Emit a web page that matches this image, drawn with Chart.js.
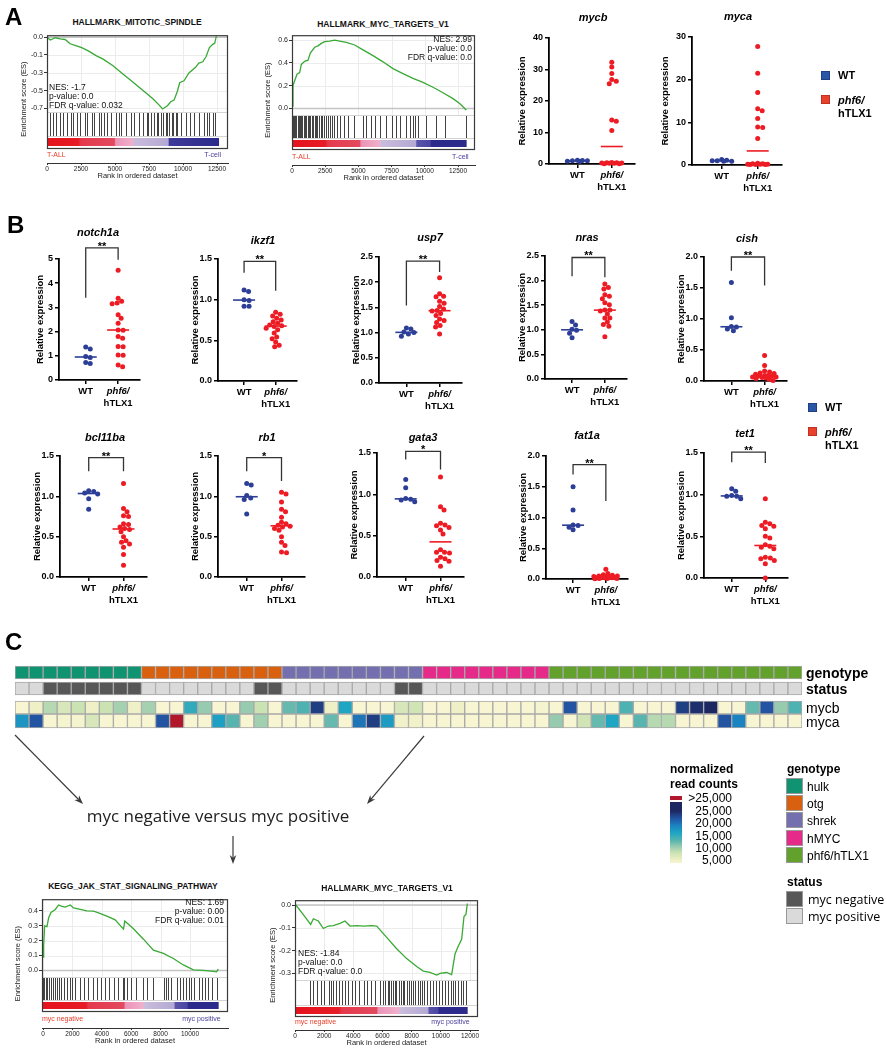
<!DOCTYPE html>
<html lang="en">
<head>
<meta charset="UTF-8">
<title>myc / phf6-hTLX1 figure</title>
<script src="https://cdn.jsdelivr.net/npm/chart.js"></script>
<style>
  body { margin: 0; background: #fff; }
  #fig { position: relative; width: 887px; height: 1050px; overflow: hidden; font-family: Arial, "Liberation Sans", sans-serif; }
  #fig canvas { position: absolute; }
  .t { position: absolute; white-space: nowrap; line-height: 1; }
  .sw { position: absolute; box-sizing: border-box; }
</style>
</head>
<body>
<div id="fig"></div>
<script>
// ---------- data: GSEA curves (rank, enrichment score) and hit ranks ----------
const spindleRank = [0, 243, 607, 971, 1335, 1699, 2063, 2548, 3034, 3641, 4126, 4854, 5582, 6310, 7038, 7766, 8252, 8495, 8859, 9101, 9344, 9587, 9757, 10072, 10436, 10922, 11165, 11456, 11699, 11941, 12184, 12330, 12451];
const spindleES = [0, -0.029, -0.006, -0.016, -0.023, -0.065, -0.081, -0.103, -0.135, -0.184, -0.216, -0.281, -0.361, -0.442, -0.523, -0.603, -0.668, -0.706, -0.674, -0.635, -0.619, -0.532, -0.448, -0.429, -0.352, -0.297, -0.255, -0.242, -0.19, -0.103, -0.071, -0.061, 0.01];
const spindleHits = [240, 440, 680, 970, 1170, 1460, 1770, 1890, 2180, 2430, 2820, 2960, 3280, 3470, 3810, 4000, 4180, 4440, 4680, 5100, 5290, 5460, 5780, 6190, 6430, 6800, 7040, 7330, 7450, 7650, 7890, 8060, 8180, 8370, 8500, 8740, 8860, 8980, 9170, 9270, 9470, 9590, 9830, 10190, 10490, 10800, 11170, 11530, 11770, 11940, 12180, 12380];

const mycTallRank = [0, 75, 200, 377, 577, 703, 954, 1205, 1380, 1707, 1958, 2209, 2460, 2836, 3213, 3589, 4091, 4719, 5346, 6099, 6852, 7605, 8358, 9111, 9864, 10617, 11370, 12123, 12625, 13127];
const mycTallES = [0.02, 0.2, 0.243, 0.3, 0.314, 0.386, 0.414, 0.423, 0.486, 0.537, 0.549, 0.571, 0.586, 0.591, 0.6, 0.591, 0.58, 0.557, 0.514, 0.463, 0.409, 0.349, 0.306, 0.263, 0.229, 0.186, 0.137, 0.086, 0.043, -0.014];
const mycTallHits = [40, 120, 220, 330, 420, 520, 600, 700, 780, 880, 980, 1080, 1180, 1280, 1380, 1480, 1580, 1700, 1800, 1900, 2020, 2150, 2280, 2400, 2550, 2700, 2850, 3000, 3200, 3400, 3650, 3900, 4250, 4700, 5350, 5600, 5950, 6250, 6600, 7100, 7500, 7850, 8100, 8600, 8850, 9100, 9250, 9500, 10100, 10850, 11500, 13100];

const jakRank = [0, 45, 113, 271, 385, 543, 837, 1063, 1290, 1516, 1855, 2081, 2534, 2986, 3439, 3778, 4344, 4910, 5475, 5566, 6154, 6833, 7511, 8190, 8869, 9548, 10226, 10905, 11584, 11810, 11923];
const jakES = [0.09, 0.17, 0.3, 0.295, 0.354, 0.39, 0.41, 0.44, 0.43, 0.426, 0.44, 0.42, 0.41, 0.4, 0.398, 0.387, 0.365, 0.34, 0.278, 0.332, 0.28, 0.21, 0.136, 0.114, 0.08, 0.037, 0.004, 0.0, -0.007, -0.01, 0.01];
const jakHits = [30, 90, 200, 300, 420, 560, 700, 800, 930, 1100, 1250, 1400, 1600, 1850, 2000, 2200, 2500, 2800, 3050, 3400, 3700, 3950, 4250, 4500, 4800, 5100, 5450, 5520, 5700, 6000, 6350, 6800, 7100, 7500, 8200, 8350, 8500, 8700, 9100, 9300, 9500, 9700, 9900, 10100, 10300, 10600, 10800, 11000, 11200, 11500, 11850];

const mycNegRank = [0, 571, 1075, 1258, 1601, 1943, 2286, 2629, 3086, 3429, 3772, 4229, 4686, 5257, 5600, 6286, 6972, 7657, 8343, 8800, 9257, 9714, 9943, 10400, 10743, 10972, 11200, 11429, 11589, 11726, 11818];
const mycNegES = [0.005, -0.042, -0.085, -0.06, -0.07, -0.103, -0.092, -0.09, -0.08, -0.07, -0.092, -0.09, -0.092, -0.09, -0.092, -0.142, -0.192, -0.235, -0.27, -0.29, -0.296, -0.307, -0.3, -0.296, -0.305, -0.215, -0.18, -0.15, -0.05, -0.04, 0.007];
const mycNegHits = [1030, 1250, 1500, 1750, 2000, 2300, 2450, 2600, 2800, 3000, 3200, 3450, 3650, 3900, 4100, 4400, 4700, 4950, 5200, 5500, 5800, 6050, 6200, 6350, 6450, 6550, 6700, 6850, 6950, 7100, 7250, 7400, 7500, 7650, 7800, 7950, 8100, 8250, 8400, 8550, 8700, 8850, 9050, 9250, 9450, 9650, 9900, 10100, 10300, 10500, 10700, 10850, 11000, 11200, 11400, 11550, 11750];

// ranked-list colour bars: [rank, colour]
const spindleBar = [[0, '#e5131d'], [2300, '#e61c26'], [2500, '#e5394c'], [4950, '#e24a5e'], [5050, '#eb93b6'], [6300, '#f0b0cc'], [6400, '#c9bcdc'], [8900, '#b4a9d3'], [9000, '#3e3a9a'], [12650, '#2c2a8a']];
const mycTallBar = [[0, '#e5131d'], [2500, '#e61c26'], [2700, '#e5394c'], [5100, '#e24a5e'], [5200, '#eb93b6'], [6600, '#f0b0cc'], [6700, '#c9bcdc'], [9300, '#b4a9d3'], [9400, '#5a55aa'], [10400, '#4a46a2'], [10500, '#2c2a8a'], [13150, '#2c2a8a']];
const jakBar = [[0, '#e5131d'], [2900, '#e61c26'], [3100, '#e5394c'], [5500, '#e24a5e'], [5600, '#eb93b6'], [6800, '#f0b0cc'], [6900, '#c9bcdc'], [8900, '#b4a9d3'], [9000, '#5a55aa'], [9800, '#4a46a2'], [9900, '#2c2a8a'], [11950, '#2c2a8a']];
const mycNegBar = [[0, '#e5131d'], [3000, '#e61c26'], [3200, '#e5394c'], [5600, '#e24a5e'], [5700, '#eb93b6'], [7100, '#f0b0cc'], [7200, '#c9bcdc'], [9100, '#b4a9d3'], [9200, '#5a55aa'], [9800, '#4a46a2'], [9900, '#2c2a8a'], [11840, '#2c2a8a']];

// ---------- data: relative expression (WT n=6, phf6/hTLX1 n=18) ----------
const mycbWT = [1.2, 1.1, 1.0, 1.0, 0.9, 0.8];
const mycbKO = [32.3, 30.8, 28.7, 26.8, 26.3, 25.5, 14.0, 13.6, 10.6, 0.5, 0.4, 0.4, 0.3, 0.3, 0.2, 0.2, 0.1, 0.1];
const mycaWT = [1.3, 1.1, 1.0, 1.0, 0.9, 0.9];
const mycaKO = [27.8, 21.5, 17.0, 13.2, 12.7, 10.9, 8.9, 8.8, 6.2, 0.4, 0.3, 0.3, 0.2, 0.2, 0.2, 0.1, 0.1, 0.1];
const notch1aWT = [1.36, 1.28, 0.97, 0.93, 0.72, 0.68];
const notch1aKO = [4.53, 3.38, 3.25, 3.18, 3.15, 2.7, 2.55, 2.35, 2.07, 2.06, 1.8, 1.73, 1.38, 1.37, 1.03, 1.02, 0.62, 0.55];
const ikzf1WT = [1.12, 1.1, 1.0, 0.99, 0.92, 0.92];
const ikzf1KO = [0.845, 0.82, 0.8, 0.77, 0.75, 0.73, 0.71, 0.69, 0.68, 0.67, 0.65, 0.63, 0.59, 0.54, 0.52, 0.48, 0.44, 0.42];
const usp7WT = [1.09, 1.07, 1.01, 1.0, 0.97, 0.93];
const usp7KO = [2.09, 1.77, 1.72, 1.71, 1.62, 1.58, 1.52, 1.47, 1.44, 1.43, 1.38, 1.34, 1.27, 1.24, 1.2, 1.14, 1.11, 0.97];
const nrasWT = [1.17, 1.1, 1.01, 0.99, 0.93, 0.84];
const nrasKO = [1.93, 1.86, 1.83, 1.71, 1.68, 1.63, 1.55, 1.51, 1.4, 1.4, 1.38, 1.32, 1.24, 1.24, 1.11, 1.07, 1.16, 0.86];
const cishWT = [1.59, 1.02, 0.88, 0.87, 0.84, 0.81];
const cishKO = [0.41, 0.25, 0.16, 0.145, 0.13, 0.12, 0.11, 0.09, 0.09, 0.08, 0.075, 0.065, 0.065, 0.055, 0.05, 0.04, 0.03, 0.01];
const bcl11baWT = [1.07, 1.06, 1.04, 1.03, 0.97, 0.84];
const bcl11baKO = [1.16, 0.85, 0.81, 0.76, 0.75, 0.66, 0.65, 0.62, 0.6, 0.59, 0.56, 0.5, 0.45, 0.43, 0.41, 0.37, 0.28, 0.145];
const rb1WT = [1.16, 1.14, 1.01, 0.98, 0.96, 0.78];
const rb1KO = [1.05, 1.03, 0.93, 0.84, 0.81, 0.74, 0.68, 0.66, 0.64, 0.63, 0.62, 0.6, 0.58, 0.5, 0.43, 0.39, 0.31, 0.3];
const gata3WT = [1.18, 1.08, 0.95, 0.94, 0.93, 0.91];
const gata3KO = [1.21, 0.85, 0.81, 0.65, 0.63, 0.62, 0.6, 0.57, 0.52, 0.33, 0.3, 0.3, 0.29, 0.24, 0.22, 0.2, 0.19, 0.13];
const fat1aWT = [1.5, 1.12, 0.88, 0.87, 0.84, 0.8];
const fat1aKO = [0.16, 0.09, 0.07, 0.06, 0.05, 0.05, 0.04, 0.04, 0.03, 0.03, 0.03, 0.02, 0.02, 0.02, 0.01, 0.01, 0.01, 0.005];
const tet1WT = [1.07, 1.04, 0.99, 0.98, 0.98, 0.95];
const tet1KO = [0.95, 0.67, 0.65, 0.63, 0.62, 0.59, 0.5, 0.48, 0.4, 0.38, 0.37, 0.35, 0.25, 0.24, 0.23, 0.21, 0.17, 0.0];

// ---------- data: heatmap (56 samples) ----------
const genotypeNames = ['hulk', 'otg', 'shrek', 'hMYC', 'phf6/hTLX1'];
const genotypeSizes = [9, 10, 10, 9, 18];
const statusCodes = 'PPNNNNNNN' + 'PPPPPPPPNN' + 'PPPPPPPPNN' + 'PPPPPPPPP' + 'PPPPPPPPPPPPPPPPPP';
const mycbCounts = [3500, 5000, 9000, 7000, 8000, 5000, 8000, 9800, 5000,
  9800, 3500, 3500, 15000, 10500, 3500, 3500, 10500, 8000, 3500,
  12500, 13500, 23500, 5000, 16000, 3500, 3500, 3500, 7000, 7500,
  3500, 3500, 5000, 3500, 3500, 3500, 3500, 3500, 4000,
  3500, 22000, 3500, 3500, 3500, 13500, 3500, 3500, 3500, 23500, 24500, 25000, 3500, 3500, 12500, 22000, 10500, 13500];
const mycaCounts = [17500, 22000, 3500, 4000, 4000, 7000, 3500, 3500, 3500,
  3500, 22000, 30000, 3500, 3500, 16500, 13000, 3500, 10000, 3500,
  3500, 3500, 3500, 12500, 3500, 20000, 23500, 17000, 4500, 4500,
  3500, 3500, 3500, 3500, 3500, 3500, 3500, 3500, 3500,
  10500, 3500, 7500, 12500, 16000, 3500, 13000, 9000, 9000, 3500, 3500, 3500, 22000, 19000, 3500, 3500, 3500, 3500];
const countTicks = [25000, 20000, 15000, 10000, 5000];

// ---------- styles ----------
const FONT = 'Arial, "Liberation Sans", sans-serif';
const DOT_BLUE = '#2c3e96', DOT_RED = '#ed1c24';
const genotypeColors = {'hulk': '#109370', 'otg': '#d9600f', 'shrek': '#7470b0', 'hMYC': '#e52a89', 'phf6/hTLX1': '#62a22c'};
const statusColors = {N: '#575757', P: '#dadada'};
const countStops = [[3000, '#f9f7d6'], [5000, '#eff0c6'], [8000, '#cbe2b3'], [10500, '#97cbb0'], [13000, '#58b4ae'], [16000, '#1ea6c3'], [19000, '#1a84c2'], [22000, '#2254a2'], [25000, '#1d2862']];

Chart.defaults.font.family = FONT;
Chart.defaults.animation = false;
Chart.defaults.events = [];
Chart.defaults.plugins.legend.display = false;
Chart.defaults.plugins.tooltip.enabled = false;

const fig = document.getElementById('fig');

function addCanvas(x, y, w, h) {
  const c = document.createElement('canvas');
  c.width = w; c.height = h;
  c.style.cssText = `left:${x}px;top:${y}px;width:${w}px;height:${h}px`;
  fig.appendChild(c);
  return c;
}

function label(text, x, y, font, color = '#000', align = 'center') {
  const d = document.createElement('div');
  d.className = 't';
  d.textContent = text;
  const tx = align === 'center' ? '-50%' : align === 'right' ? '-100%' : '0';
  d.style.cssText = `left:${x}px;top:${y}px;font:${font};color:${color};transform:translate(${tx},-50%)`;
  fig.appendChild(d);
}

function swatch(x, y, w, h, bg, border = '#999') {
  const d = document.createElement('div');
  d.className = 'sw';
  d.style.cssText = `left:${x}px;top:${y}px;width:${w}px;height:${h}px;background:${bg};border:1px solid ${border}`;
  fig.appendChild(d);
}

function seg(ctx, x1, y1, x2, y2) {
  ctx.beginPath(); ctx.moveTo(x1, y1); ctx.lineTo(x2, y2); ctx.stroke();
}

function median(vals) {
  const s = [...vals].sort((a, b) => a - b), m = s.length >> 1;
  return s.length % 2 ? s[m] : (s[m - 1] + s[m]) / 2;
}

// scatter-dot layout: nearest free horizontal slot within +/-12px, overlap allowed when full
function swarm(vals, yPerPx, xPerPx) {
  const d = 4.6, maxOff = 12, placed = [], out = [];
  const order = vals.map((v, i) => i).sort((a, b) => vals[b] - vals[a]);
  for (const i of order) {
    const py = vals[i] / yPerPx;
    let best = 0, bestGap = -1;
    for (let k = 0; k <= maxOff * 4; k++) {
      const off = (k % 2 ? 1 : -1) * Math.ceil(k / 2) * 0.5;
      const gap = placed.reduce((m, p) => Math.min(m, Math.hypot(p.x - off, p.y - py)), Infinity);
      if (gap >= d) { best = off; break; }
      if (gap > bestGap + 0.3) { best = off; bestGap = gap; }
    }
    placed.push({x: best, y: py});
    out[i] = best * xPerPx;
  }
  return out;
}

function countColor(v) {
  if (v > 25000) return '#b2182b';
  if (v <= countStops[0][0]) return countStops[0][1];
  for (let i = 1; i < countStops.length; i++) {
    const [v1, c1] = countStops[i];
    if (v <= v1) {
      const [v0, c0] = countStops[i - 1];
      const f = (v - v0) / (v1 - v0);
      const a = parseInt(c0.slice(1), 16), b = parseInt(c1.slice(1), 16);
      const ch = s => Math.round(((a >> s) & 255) * (1 - f) + ((b >> s) & 255) * f);
      return `rgb(${ch(16)},${ch(8)},${ch(0)})`;
    }
  }
  return countStops[countStops.length - 1][1];
}

// ---------- GSEA enrichment plot ----------
function gseaPlot(g) {
  const axW = 46, axH = 18, padT = 2, padR = 4;
  const cx = g.l - axW, cy = g.t - padT;
  const cv = addCanvas(cx, cy, g.r - g.l + axW + padR, g.axisY - g.t + padT + axH);
  const [[v0, p0], [v1, p1]] = g.yCal;
  const k = (v0 - v1) / (p1 - p0);
  const yMax = v0 + (p0 - g.t) * k, yMin = v0 - (g.axisY - p0) * k;
  const [x0, x1, r1] = g.xCal;
  const kx = r1 / (x1 - x0);
  const Y = py => py - cy;

  const deco = {
    id: 'gseaDeco',
    beforeDatasetsDraw(chart) {
      const {ctx, chartArea: a, scales: {x, y}} = chart;
      ctx.save();
      ctx.strokeStyle = '#ececec'; ctx.lineWidth = 1;
      g.yTicks.forEach(v => { const py = Math.round(y.getPixelForValue(v)) + 0.5; seg(ctx, a.left, py, a.right, py); });
      g.xTicks.forEach(v => { const px = Math.round(x.getPixelForValue(v)) + 0.5; seg(ctx, px, a.top, px, Y(g.esBottom)); });
      ctx.strokeStyle = '#c4c4c4'; ctx.lineWidth = 1.5;
      const z = y.getPixelForValue(0);
      seg(ctx, a.left, z, a.right, z);
      ctx.restore();
    },
    afterDatasetsDraw(chart) {
      const {ctx, chartArea: a, scales: {x}} = chart;
      ctx.save();
      ctx.strokeStyle = '#d4d4d4'; ctx.lineWidth = 1;
      seg(ctx, a.left, Y(g.esBottom) + 0.5, a.right, Y(g.esBottom) + 0.5);
      seg(ctx, a.left, Y(g.barTop) - 1.5, a.right, Y(g.barTop) - 1.5);
      ctx.strokeStyle = 'rgba(20,20,20,0.8)';
      g.hits.forEach(r => {
        const px = Math.round(x.getPixelForValue(r)) + 0.5;
        seg(ctx, px, Y(g.esBottom) + 1, px, Y(g.barTop) - 2);
      });
      const xs = x.getPixelForValue(0), xe = x.getPixelForValue(g.n);
      const grad = ctx.createLinearGradient(xs, 0, xe, 0);
      g.bar.forEach(([r, c]) => grad.addColorStop(Math.min(1, r / g.n), c));
      ctx.fillStyle = grad;
      ctx.fillRect(xs, Y(g.barTop), xe - xs, g.barBottom - g.barTop);
      ctx.strokeStyle = '#3a3a3a'; ctx.lineWidth = 1.2;
      ctx.strokeRect(a.left + 0.5, a.top + 0.5, a.right - a.left - 1, Y(g.barBottom) + 2 - a.top);
      ctx.font = `7px ${FONT}`; ctx.textBaseline = 'middle';
      ctx.fillStyle = '#e8402a'; ctx.textAlign = 'left';
      ctx.fillText(g.labL, a.left, Y(g.labY));
      ctx.fillStyle = '#4a3f9a'; ctx.textAlign = 'right';
      ctx.fillText(g.labR, xe + 2, Y(g.labY));
      ctx.restore();
    }
  };

  new Chart(cv, {
    type: 'line',
    data: {datasets: [{
      data: g.rank.map((r, i) => ({x: r, y: g.es[i]})),
      borderColor: '#39a935', borderWidth: 1.3, pointRadius: 0, tension: 0
    }]},
    options: {
      responsive: false,
      layout: {padding: {top: padT, right: padR, left: 0, bottom: 0}},
      scales: {
        x: {
          type: 'linear', min: (g.l - x0) * kx, max: (g.r - x0) * kx,
          afterFit: s => { s.height = axH; },
          afterBuildTicks: s => { s.ticks = g.xTicks.map(v => ({value: v})); },
          ticks: {autoSkip: false, maxRotation: 0, font: {size: 6.5}, color: '#222', padding: 0, callback: v => String(v)},
          grid: {drawOnChartArea: false, tickLength: 2, color: '#333'},
          border: {color: '#333', width: 1},
          title: {display: true, text: 'Rank in ordered dataset', font: {size: 7.5}, color: '#222', padding: {top: 0, bottom: 1}}
        },
        y: {
          min: yMin, max: yMax,
          afterFit: s => { s.width = axW; },
          afterBuildTicks: s => { s.ticks = g.yTicks.map(v => ({value: v})); },
          ticks: {autoSkip: false, font: {size: 7}, color: '#222', padding: 1, callback: (v, i) => g.yLabels[i]},
          grid: {drawOnChartArea: false, tickLength: 3, color: '#333'},
          border: {display: false},
          title: {display: true, text: 'Enrichment score (ES)', font: {size: 7.5}, color: '#222', padding: {top: g.yTitleX - cx - 4.5, bottom: 0}}
        }
      }
    },
    plugins: [deco]
  });

  label(g.title, g.titleX, g.titleY, `bold 8.5px ${FONT}`, '#111');
  g.notes.forEach((s, i) => label(s, g.noteX, g.noteY + i * 9, `8.5px ${FONT}`, '#111', g.noteAlign));
}

// ---------- scatter dot plot ----------
function dotPlot(p) {
  const padT = 34, axW = 54, axH = 30, padR = 4;
  const xMin = 0.175, xMax = 2.675;
  const plotW = p.right - p.ax, plotH = p.bottom - p.top;
  const xPerPx = (xMax - xMin) / plotW, yPerPx = p.yMax / plotH;
  const cx = p.ax - axW, cy = p.top - padT;
  const cv = addCanvas(cx, cy, plotW + axW + padR, plotH + padT + axH);
  const wtOff = swarm(p.wt, yPerPx, xPerPx), koOff = swarm(p.ko, yPerPx, xPerPx);
  const half = 11 * xPerPx;
  const pts = (vals, off, c) => vals.map((v, i) => ({x: c + off[i], y: v}));
  const mline = (vals, c) => [{x: c - half, y: median(vals)}, {x: c + half, y: median(vals)}];
  const gap = p.gap || 23;

  const deco = {
    id: 'dotDeco',
    afterDraw(chart) {
      const {ctx, chartArea: a, scales: {x, y}} = chart;
      const x1 = x.getPixelForValue(1), x2 = x.getPixelForValue(2);
      ctx.save();
      ctx.fillStyle = '#000'; ctx.textAlign = 'center'; ctx.textBaseline = 'middle';
      ctx.font = `bold 9.5px ${FONT}`;
      ctx.fillText('WT', x1, a.bottom + 11);
      ctx.fillText('hTLX1', x2, a.bottom + 23);
      ctx.font = `italic bold 9.5px ${FONT}`;
      ctx.fillText('phf6/', x2, a.bottom + 11);
      if (p.sig) {
        const [wb, kb, tp, lab] = p.sig;
        const yt = y.getPixelForValue(tp);
        ctx.strokeStyle = '#333'; ctx.lineWidth = 1.3;
        ctx.beginPath();
        ctx.moveTo(x1, y.getPixelForValue(wb)); ctx.lineTo(x1, yt);
        ctx.lineTo(x2, yt); ctx.lineTo(x2, y.getPixelForValue(kb));
        ctx.stroke();
        ctx.font = `bold 11px ${FONT}`; ctx.textBaseline = 'alphabetic';
        ctx.fillText(lab, (x1 + x2) / 2, yt + 2);
      }
      ctx.restore();
    }
  };

  new Chart(cv, {
    type: 'scatter',
    data: {datasets: [
      {data: pts(p.wt, wtOff, 1), backgroundColor: DOT_BLUE, pointRadius: 2.5, borderWidth: 0, clip: false},
      {data: pts(p.ko, koOff, 2), backgroundColor: DOT_RED, pointRadius: 2.5, borderWidth: 0, clip: false},
      {data: mline(p.wt, 1), showLine: true, borderColor: DOT_BLUE, borderWidth: 1.6, pointRadius: 0},
      {data: mline(p.ko, 2), showLine: true, borderColor: DOT_RED, borderWidth: 1.6, pointRadius: 0}
    ]},
    options: {
      responsive: false,
      layout: {padding: {top: padT, right: padR, left: 0, bottom: 0}},
      scales: {
        x: {
          type: 'linear', min: xMin, max: xMax,
          afterFit: s => { s.height = axH; },
          afterBuildTicks: s => { s.ticks = [{value: 1}, {value: 2}]; },
          ticks: {display: false},
          grid: {drawOnChartArea: false, tickLength: 4, color: '#000', lineWidth: 1.5},
          border: {color: '#000', width: 1.8}
        },
        y: {
          min: 0, max: p.yMax,
          afterFit: s => { s.width = axW; },
          ticks: {stepSize: p.step, color: '#000', font: {size: 9, weight: 'bold'}, padding: 2,
            callback: v => p.step < 1 ? v.toFixed(1) : String(v)},
          grid: {drawOnChartArea: false, tickLength: 4, color: '#000', lineWidth: 1.5},
          border: {color: '#000', width: 1.8},
          title: {display: true, text: 'Relative expression', color: '#000', font: {size: 9.5, weight: 'bold'},
            padding: {top: axW - gap - 5.7, bottom: 0}}
        }
      }
    },
    plugins: [deco]
  });
  label(p.gene, p.tx, p.ty, `italic bold 11px ${FONT}`);
}

// ---------- panel A ----------
gseaPlot({rank: spindleRank, es: spindleES, hits: spindleHits, bar: spindleBar, n: 12650,
  l: 47, t: 32, r: 228, axisY: 163, yCal: [[0, 34], [-0.7, 107]], xCal: [47, 217, 12500],
  esBottom: 112, barTop: 138, barBottom: 146, labY: 155, yTitleX: 24,
  yTicks: [0, -0.175, -0.35, -0.525, -0.7], yLabels: ['0.0', '-0.1', '-0.3', '-0.5', '-0.7'],
  xTicks: [0, 2500, 5000, 7500, 10000, 12500], labL: 'T-ALL', labR: 'T-cell',
  title: 'HALLMARK_MITOTIC_SPINDLE', titleX: 137, titleY: 22,
  notes: ['NES: -1.7', 'p-value: 0.0', 'FDR q-value: 0.032'], noteX: 49, noteY: 87, noteAlign: 'left'});

gseaPlot({rank: mycTallRank, es: mycTallES, hits: mycTallHits, bar: mycTallBar, n: 13150,
  l: 292, t: 32, r: 475, axisY: 165, yCal: [[0.6, 37], [0, 107]], xCal: [292, 458, 12500],
  esBottom: 115, barTop: 140, barBottom: 147, labY: 157, yTitleX: 268,
  yTicks: [0, 0.2, 0.4, 0.6], yLabels: ['0.0', '0.2', '0.4', '0.6'],
  xTicks: [0, 2500, 5000, 7500, 10000, 12500], labL: 'T-ALL', labR: 'T-cell',
  title: 'HALLMARK_MYC_TARGETS_V1', titleX: 383, titleY: 24,
  notes: ['NES: 2.99', 'p-value: 0.0', 'FDR q-value: 0.0'], noteX: 472, noteY: 39, noteAlign: 'right'});

const dotPanels = [
  {gene: 'mycb', wt: mycbWT, ko: mycbKO, yMax: 40, step: 10, ax: 549, top: 38, bottom: 164, right: 635, tx: 593, ty: 17, gap: 27},
  {gene: 'myca', wt: mycaWT, ko: mycaKO, yMax: 30, step: 10, ax: 692, top: 37, bottom: 165, right: 782, tx: 738, ty: 16, gap: 27},
  {gene: 'notch1a', wt: notch1aWT, ko: notch1aKO, yMax: 5, step: 1, ax: 59, top: 259, bottom: 380, right: 140, tx: 98, ty: 232, gap: 19, sig: [3.4, 4.97, 5.46, '**']},
  {gene: 'ikzf1', wt: ikzf1WT, ko: ikzf1KO, yMax: 1.5, step: 0.5, ax: 218, top: 259, bottom: 381, right: 297, tx: 263, ty: 240, sig: [1.33, 1.11, 1.47, '**']},
  {gene: 'usp7', wt: usp7WT, ko: usp7KO, yMax: 2.5, step: 0.5, ax: 379, top: 257, bottom: 383, right: 462, tx: 430, ty: 237, sig: [1.54, 2.2, 2.42, '**']},
  {gene: 'nras', wt: nrasWT, ko: nrasKO, yMax: 2.5, step: 0.5, ax: 545, top: 256, bottom: 379, right: 627, tx: 587, ty: 237, sig: [2.09, 2.07, 2.47, '**']},
  {gene: 'cish', wt: cishWT, ko: cishKO, yMax: 2.0, step: 0.5, ax: 704, top: 257, bottom: 381, right: 787, tx: 747, ty: 238, sig: [1.78, 1.54, 2.0, '**']},
  {gene: 'bcl11ba', wt: bcl11baWT, ko: bcl11baKO, yMax: 1.5, step: 0.5, ax: 60, top: 456, bottom: 577, right: 147, tx: 105, ty: 437, sig: [1.31, 1.31, 1.48, '**']},
  {gene: 'rb1', wt: rb1WT, ko: rb1KO, yMax: 1.5, step: 0.5, ax: 218, top: 456, bottom: 577, right: 305, tx: 267, ty: 437, sig: [1.31, 1.19, 1.48, '*']},
  {gene: 'gata3', wt: gata3WT, ko: gata3KO, yMax: 1.5, step: 0.5, ax: 377, top: 453, bottom: 577, right: 464, tx: 423, ty: 437, sig: [1.42, 1.3, 1.52, '*']},
  {gene: 'fat1a', wt: fat1aWT, ko: fat1aKO, yMax: 2.0, step: 0.5, ax: 546, top: 456, bottom: 579, right: 628, tx: 587, ty: 435, sig: [1.7, 1.27, 1.86, '**']},
  {gene: 'tet1', wt: tet1WT, ko: tet1KO, yMax: 1.5, step: 0.5, ax: 704, top: 453, bottom: 578, right: 788, tx: 745, ty: 433, sig: [1.39, 1.38, 1.51, '**']}
];
dotPanels.forEach(dotPlot);

// ---------- panel C heatmap ----------
const sampleGenotype = genotypeSizes.flatMap((n, i) => Array(n).fill(genotypeNames[i]));
const sampleIds = sampleGenotype.map((_, i) => 'S' + (i + 1));
const heatRows = [
  {band: [1, 14], colors: sampleGenotype.map(gn => genotypeColors[gn])},
  {band: [17, 30], colors: statusCodes.split('').map(c => statusColors[c])},
  {band: [36, 49], colors: mycbCounts.map(countColor)},
  {band: [49, 63], colors: mycaCounts.map(countColor)}
];
new Chart(addCanvas(15, 665, 787, 64), {
  type: 'bar',
  data: {labels: sampleIds, datasets: heatRows.map(r => ({
    data: sampleIds.map(() => r.band), backgroundColor: r.colors,
    borderColor: '#a9a9a9', borderWidth: 1, borderSkipped: false,
    grouped: false, barPercentage: 1, categoryPercentage: 1
  }))},
  options: {
    responsive: false, layout: {padding: 0},
    scales: {x: {display: false}, y: {display: false, min: 0, max: 64, reverse: true}}
  }
});

// ---------- panel C enrichment plots ----------
gseaPlot({rank: jakRank, es: jakES, hits: jakHits, bar: jakBar, n: 11950,
  l: 42, t: 896, r: 228, axisY: 1028, yCal: [[0.4, 908], [0, 969]], xCal: [43, 190, 10000],
  esBottom: 977, barTop: 1002, barBottom: 1009, labY: 1019, yTitleX: 18,
  yTicks: [0, 0.1, 0.2, 0.3, 0.4], yLabels: ['0.0', '0.1', '0.2', '0.3', '0.4'],
  xTicks: [0, 2000, 4000, 6000, 8000, 10000], labL: 'myc negative', labR: 'myc positive',
  title: 'KEGG_JAK_STAT_SIGNALING_PATHWAY', titleX: 133, titleY: 886,
  notes: ['NES: 1.69', 'p-value: 0.00', 'FDR q-value: 0.01'], noteX: 224, noteY: 902, noteAlign: 'right'});

gseaPlot({rank: mycNegRank, es: mycNegES, hits: mycNegHits, bar: mycNegBar, n: 11840,
  l: 295, t: 897, r: 478, axisY: 1030, yCal: [[0, 902], [-0.3, 972]], xCal: [295, 470, 12000],
  esBottom: 980, barTop: 1007, barBottom: 1014, labY: 1022, yTitleX: 273,
  yTicks: [0, -0.1, -0.2, -0.3], yLabels: ['0.0', '-0.1', '-0.2', '-0.3'],
  xTicks: [0, 2000, 4000, 6000, 8000, 10000, 12000], labL: 'myc negative', labR: 'myc positive',
  title: 'HALLMARK_MYC_TARGETS_V1', titleX: 387, titleY: 888,
  notes: ['NES: -1.84', 'p-value: 0.0', 'FDR q-value: 0.0'], noteX: 298, noteY: 953, noteAlign: 'left'});

// ---------- arrows ----------
function arrow(x1, y1, x2, y2) {
  const ang = Math.atan2(y2 - y1, x2 - x1), L = 9, W = 3.3;
  const c = Math.cos(ang), s = Math.sin(ang);
  const bx = x2 - L * c, by = y2 - L * s, mx = x2 - L * 0.7 * c, my = y2 - L * 0.7 * s;
  return `<line x1="${x1}" y1="${y1}" x2="${mx}" y2="${my}" stroke="#3a3a3a" stroke-width="1.2"/>` +
    `<polygon points="${x2},${y2} ${bx - s * W},${by + c * W} ${mx},${my} ${bx + s * W},${by - c * W}" fill="#3a3a3a"/>`;
}
const svg = document.createElementNS('http://www.w3.org/2000/svg', 'svg');
svg.setAttribute('width', 887); svg.setAttribute('height', 1050);
svg.style.cssText = 'position:absolute;left:0;top:0';
svg.innerHTML = arrow(15, 735, 83, 804) + arrow(424, 736, 367, 804) + arrow(233, 836, 233, 864);
fig.appendChild(svg);

// ---------- text, legends ----------
label('A', 5, 17, `bold 24px ${FONT}`, '#000', 'left');
label('B', 7, 225, `bold 24px ${FONT}`, '#000', 'left');
label('C', 5, 642, `bold 24px ${FONT}`, '#000', 'left');

function groupLegend(x, y) {
  swatch(x, y - 4.5, 9, 9, '#2a56a8', '#1f3f85');
  label('WT', x + 17, y, `bold 11px ${FONT}`, '#000', 'left');
  swatch(x, y + 20, 9, 9, '#e8412c', '#c23020');
  label('phf6/', x + 17, y + 25, `italic bold 11px ${FONT}`, '#000', 'left');
  label('hTLX1', x + 17, y + 38, `bold 11px ${FONT}`, '#000', 'left');
}
groupLegend(821, 75);
groupLegend(808, 407);

[['genotype', 673, 'bold'], ['status', 689, 'bold'], ['mycb', 708, ''], ['myca', 722, '']]
  .forEach(([s, y, w]) => label(s, 806, y, `${w} 14px ${FONT}`, '#000', 'left'));

label('myc negative versus myc positive', 218, 815, '17px "Open Sans", sans-serif', '#222');

// colour scale legend
label('normalized', 670, 769, `bold 12px ${FONT}`, '#000', 'left');
label('read counts', 670, 784, `bold 12px ${FONT}`, '#000', 'left');
swatch(670, 796, 12, 4, '#b2182b', '#b2182b');
const lgTop = 28700, lgBot = 3800;
const grad = [...countStops].reverse()
  .map(([v, c]) => `${c} ${((lgTop - v) / (lgTop - lgBot) * 100).toFixed(1)}%`).join(',');
const cb = document.createElement('div');
cb.className = 'sw';
cb.style.cssText = `left:670px;top:802px;width:12px;height:61px;background:linear-gradient(to bottom,${countStops[countStops.length - 1][1]} 0%,${grad})`;
fig.appendChild(cb);
label('>25,000', 732, 798, `12px ${FONT}`, '#000', 'right');
countTicks.forEach(v => label(v.toLocaleString('en-US'), 732, 811 + (25000 - v) / 20000 * 49, `12px ${FONT}`, '#000', 'right'));

// genotype + status legend
label('genotype', 787, 769, `bold 12px ${FONT}`, '#000', 'left');
genotypeNames.forEach((gn, i) => {
  swatch(786, 778 + i * 17.2, 17, 16, genotypeColors[gn]);
  label(gn, 807, 787 + i * 17.2, `12px ${FONT}`, '#000', 'left');
});
label('status', 787, 882, `bold 12px ${FONT}`, '#000', 'left');
[['N', 'myc negative'], ['P', 'myc positive']].forEach(([c, s], i) => {
  swatch(786, 891 + i * 17, 17, 16, statusColors[c]);
  label(s, 808, 899 + i * 17, '12.5px "Open Sans", sans-serif', '#000', 'left');
});
</script>
</body>
</html>
